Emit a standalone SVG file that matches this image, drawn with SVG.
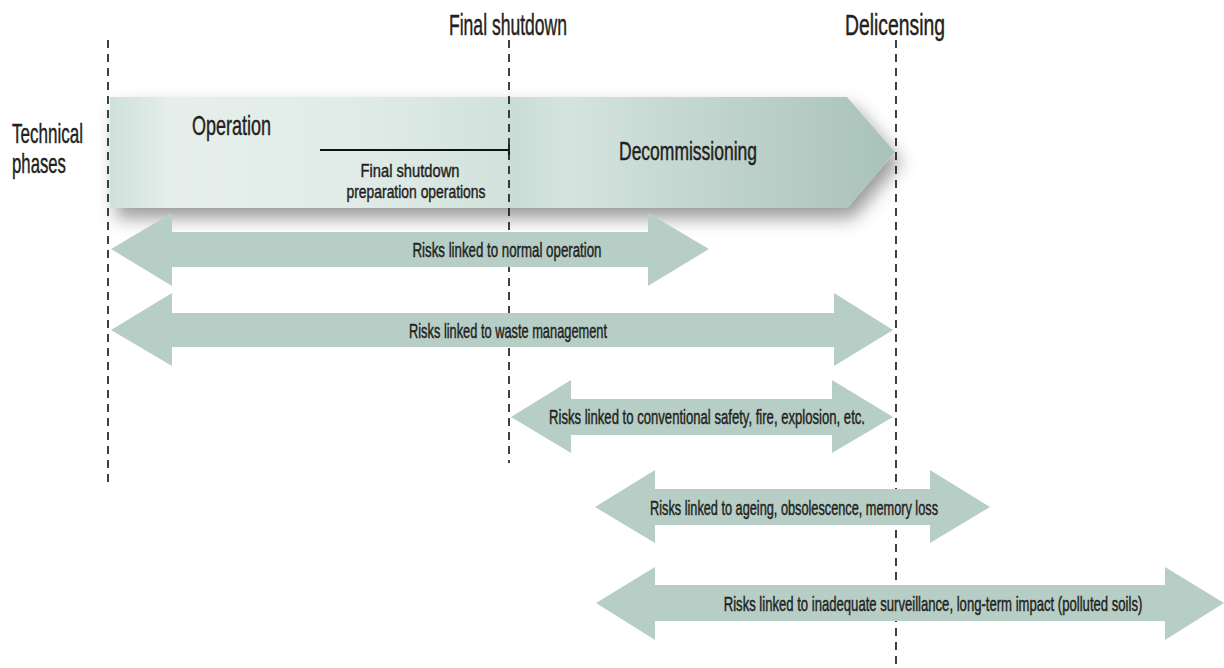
<svg xmlns="http://www.w3.org/2000/svg" width="1224" height="668" viewBox="0 0 1224 668">
<style>
text{font-family:"Liberation Sans Narrow","Liberation Sans",Arial,sans-serif;fill:#231f20;stroke:#231f20;stroke-width:0.45}
.top{font-size:29px}
.big{font-size:28px}
.dec{font-size:25px}
.sm{font-size:19px}
.lab{font-size:20px}
.dash{stroke:#111;stroke-width:1.6;stroke-dasharray:8,6;fill:none}
.arr{fill:#b7cec6}
</style>
<defs>
<linearGradient id="gOp" x1="0" y1="0" x2="1" y2="0">
<stop offset="0" stop-color="#cfe0da"/>
<stop offset="0.15" stop-color="#e6efec"/>
<stop offset="0.6" stop-color="#e0ebe7"/>
<stop offset="1" stop-color="#cfe0d9"/>
</linearGradient>
<linearGradient id="gDe" x1="0" y1="0" x2="1" y2="0">
<stop offset="0" stop-color="#c9dcd6"/>
<stop offset="0.15" stop-color="#d5e3df"/>
<stop offset="1" stop-color="#a8c2b9"/>
</linearGradient>
<filter id="sh" x="-10%" y="-20%" width="125%" height="170%">
<feDropShadow dx="6" dy="10" stdDeviation="9" flood-color="#000" flood-opacity="0.4"/>
</filter>
</defs>

<g id="phases" filter="url(#sh)">
<rect id="operation-band" x="110" y="97" width="420" height="111" fill="url(#gOp)"/>
<polygon id="decommissioning-band" points="509,97 847,97 895,152 847,208 509,208" fill="url(#gDe)"/>
</g>

<g id="connectors">
<line class="dash" x1="108" y1="40" x2="108" y2="485"/>
<line class="dash" x1="509" y1="40" x2="509" y2="463"/>
<line class="dash" x1="896" y1="40" x2="896" y2="666"/>
<line x1="320" y1="150" x2="509" y2="150" stroke="#111" stroke-width="1.8"/>
<line x1="509" y1="145" x2="509" y2="155" stroke="#111" stroke-width="1.8"/>
</g>

<g id="label-final-shutdown"><text class="top" x="508" y="35" text-anchor="middle" textLength="118" lengthAdjust="spacingAndGlyphs">Final shutdown</text></g>
<g id="label-delicensing"><text class="top" x="895" y="35" text-anchor="middle" textLength="100" lengthAdjust="spacingAndGlyphs">Delicensing</text></g>
<g id="label-technical-phases">
<text class="big" x="12" y="143" textLength="71" lengthAdjust="spacingAndGlyphs">Technical</text>
<text class="big" x="12" y="173" textLength="54" lengthAdjust="spacingAndGlyphs">phases</text>
</g>
<g id="node-operation"><text class="big" x="192" y="135" textLength="79" lengthAdjust="spacingAndGlyphs">Operation</text></g>
<g id="node-preparation">
<text class="sm" x="410" y="177" text-anchor="middle" textLength="99" lengthAdjust="spacingAndGlyphs">Final shutdown</text>
<text class="sm" x="416" y="198" text-anchor="middle" textLength="139" lengthAdjust="spacingAndGlyphs">preparation operations</text>
</g>
<g id="node-decommissioning"><text class="dec" x="688" y="160" text-anchor="middle" textLength="138" lengthAdjust="spacingAndGlyphs">Decommissioning</text></g>

<g id="risk-normal-operation">
<polygon class="arr" points="111,249 172,213 172,232 648,232 648,213 709,249 648,286 648,267 172,267 172,286"/>
<text class="lab" x="507" y="257" text-anchor="middle" textLength="189" lengthAdjust="spacingAndGlyphs">Risks linked to normal operation</text>
</g>
<g id="risk-waste">
<polygon class="arr" points="111,330 172,293 172,313 834,313 834,293 893,330 834,366 834,347 172,347 172,366"/>
<text class="lab" x="508" y="338" text-anchor="middle" textLength="198" lengthAdjust="spacingAndGlyphs">Risks linked to waste management</text>
</g>
<g id="risk-conventional">
<polygon class="arr" points="511,417 571,380 571,399 832,399 832,380 893,417 832,453 832,435 571,435 571,453"/>
<text class="lab" x="707" y="424" text-anchor="middle" textLength="316" lengthAdjust="spacingAndGlyphs">Risks linked to conventional safety, fire, explosion, etc.</text>
</g>
<g id="risk-ageing">
<polygon class="arr" points="595,507 655,470 655,489 930,489 930,470 990,507 930,543 930,525 655,525 655,543"/>
<text class="lab" x="794" y="515" text-anchor="middle" textLength="288" lengthAdjust="spacingAndGlyphs">Risks linked to ageing, obsolescence, memory loss</text>
</g>
<g id="risk-surveillance">
<polygon class="arr" points="596,603 655,567 655,585 1165,585 1165,567 1224,603 1165,640 1165,621 655,621 655,640"/>
<text class="lab" transform="translate(933 611) scale(0.7 1)" x="0" y="0" text-anchor="middle" textLength="598" lengthAdjust="spacingAndGlyphs">Risks linked to inadequate surveillance, long-term impact (polluted soils)</text>
</g>
</svg>
